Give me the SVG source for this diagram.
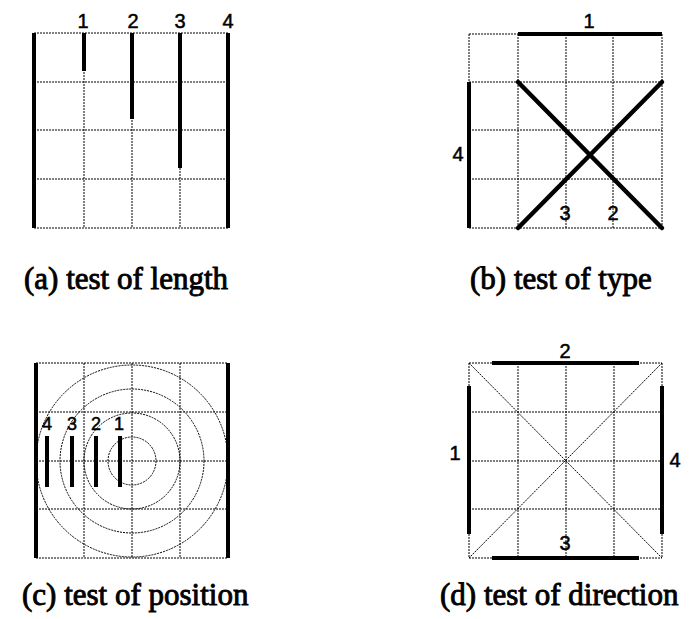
<svg xmlns="http://www.w3.org/2000/svg" width="690" height="619" viewBox="0 0 690 619">
<style>
.g{stroke:#000;stroke-width:1;stroke-dasharray:2 1;fill:none}
.t{stroke:#000;stroke-width:4;fill:none}
.x{stroke:#000;stroke-width:4.5;fill:none;stroke-linecap:round}
.n{font-family:"Liberation Sans",Arial,sans-serif;font-size:20px;fill:#000;text-anchor:middle;stroke:#000;stroke-width:0.5}
.s{font-size:18px}
.c{font-family:"Liberation Serif","Times New Roman",serif;font-size:31px;fill:#000;stroke:#000;stroke-width:0.9}
</style>
<rect width="690" height="619" fill="#fff"/>
<g id="panel-a">
<path class="g" d="M34 33H228M34 82H228M34 130H228M34 179H228M34 228H228M84 33V228M132 33V228M180 33V228"/>
<path class="t" d="M34 33V228M84 33V71M132 33V119M180 33V168M228 33V228"/>
<text class="n" x="83" y="28">1</text>
<text class="n" x="133" y="28">2</text>
<text class="n" x="180" y="28">3</text>
<text class="n" x="228" y="28">4</text>
<text class="c" x="24" y="289">(a) test of length</text>
</g>
<g id="panel-b">
<path class="g" d="M469 34H662M469 82H662M469 130H662M469 179H662M469 228H662M469 34V228M518 34V228M566 34V228M613 34V228M662 34V228"/>
<path class="t" d="M518 34H662M469 82V228"/>
<path class="x" d="M518 82L662 228M518 228L662 82"/>
<text class="n" x="589" y="28">1</text>
<text class="n" x="458" y="161">4</text>
<text class="n" x="565" y="220">3</text>
<text class="n" x="613" y="220">2</text>
<text class="c" x="470" y="289">(b) test of type</text>
</g>
<g id="panel-c">
<path class="g" d="M36 363H228M36 412H228M36 461H228M36 509H228M36 558H228M84 363V558M132 363V558M180 363V558"/>
<circle class="g" cx="132" cy="461" r="24"/>
<circle class="g" cx="132" cy="461" r="48"/>
<circle class="g" cx="132" cy="461" r="72"/>
<circle class="g" cx="132" cy="461" r="96"/>
<path class="t" d="M36 363V558M228 363V558M47 436V487M72 436V487M96 436V487M120 436V487"/>
<text class="n s" x="47" y="430">4</text>
<text class="n s" x="72" y="430">3</text>
<text class="n s" x="96" y="430">2</text>
<text class="n s" x="119" y="430">1</text>
<text class="c" x="22" y="605">(c) test of position</text>
</g>
<g id="panel-d">
<path class="g" d="M469 363H662M469 412H662M469 461H662M469 509H662M469 558H662M469 363V558M518 363V558M566 363V558M614 363V558M662 363V558M469 363L662 558M662 363L469 558"/>
<path class="t" d="M492 363H639M492 558H639M469 386V534M662 386V534"/>
<text class="n" x="565" y="358">2</text>
<text class="n" x="565" y="550">3</text>
<text class="n" x="455" y="460">1</text>
<text class="n" x="675" y="467">4</text>
<text class="c" x="440" y="605">(d) test of direction</text>
</g>
</svg>
